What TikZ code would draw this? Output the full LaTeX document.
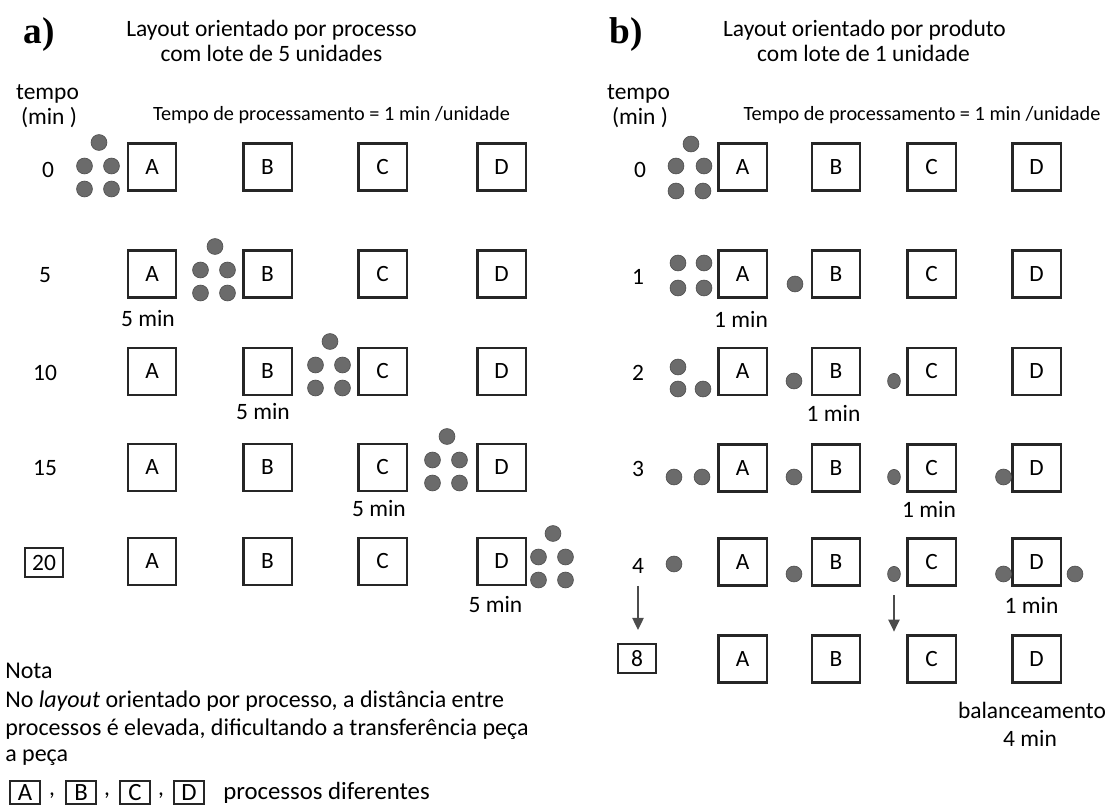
\documentclass[tikz,border=0pt]{standalone}
\usepackage{fontspec}
\setmainfont{Carlito}
\newfontfamily\headserif{Liberation Serif}
\usetikzlibrary{arrows.meta,shapes.geometric}

% type sizes (1 unit = 0.75pt)
\newcommand\txtsize{\fontsize{17.6}{21}\selectfont}
\newcommand\notesize{\fontsize{18}{21}\selectfont}
\newcommand\keysize{\fontsize{18.6}{22}\selectfont}
\newcommand\titlesize{\fontsize{17.6}{21}\selectfont}
\newcommand\procsize{\fontsize{15.2}{19}\selectfont}
\newcommand\letsize{\fontsize{17.5}{20}\selectfont}
\newcommand\tagsize{\headserif\bfseries\fontsize{28}{30}\selectfont}

% a lot of five pieces waiting at a station
\newcommand\pilha[3]{%
  \node[piece] (#1t)  at (#2+1,#3-23.5) {};
  \node[piece] (#1ml) at (#2-13.5,#3) {};
  \node[piece] (#1mr) at (#2+13.5,#3) {};
  \node[piece] (#1bl) at (#2-13.5,#3+23) {};
  \node[piece] (#1br) at (#2+13.5,#3+23) {};
}

% one row of the four stations A-D
\newcommand\estacoes[6]{%
  \node[proc] (#1A) at (#2,#6) {A};
  \node[proc] (#1B) at (#3,#6) {B};
  \node[proc] (#1C) at (#4,#6) {C};
  \node[proc] (#1D) at (#5,#6) {D};
}

\begin{document}
\begin{tikzpicture}[x=0.75pt,y=-0.75pt,
  proc/.style={draw=black!85, line width=1.7pt, minimum width=36.2pt,
               minimum height=35.4pt, inner sep=0pt, font=\letsize},
  piece/.style={circle, fill=black!58, draw=black!68, line width=0.5pt,
                minimum size=11.9pt, inner sep=0pt},
  slim/.style={ellipse, fill=black!58, draw=black!68, line width=0.5pt,
               minimum width=9.6pt, minimum height=11.4pt, inner sep=0pt},
  tbox/.style={draw=black!85, line width=1.3pt, minimum width=28.8pt,
               minimum height=21.5pt, inner sep=0pt, font=\txtsize},
  lgd/.style={draw=black!85, line width=1.2pt, minimum width=22.5pt,
              minimum height=17pt, inner sep=0pt, font=\keysize},
  lbl/.style={inner sep=0pt, font=\txtsize},
  ttl/.style={inner sep=0pt, font=\titlesize, anchor=base},
  arr/.style={draw=black!70, line width=1.1pt,
              -{Triangle[width=8.5pt,length=9pt]}},
]
\useasboundingbox (0,0) rectangle (1108,805);

% ---------------- a) process layout, lot of 5 ----------------
\node[font=\tagsize, inner sep=0pt] (tagA) at (39,35) {a)};
\node[ttl] (titA1) at (271.5,37) {Layout orientado por processo};
\node[ttl] (titA2) at (271.5,62) {com lote de 5 unidades};
\node[lbl, anchor=base] (tempoA) at (47.5,100) {tempo};
\node[lbl, anchor=base] (minA) at (49,125) {(min )};
\node[lbl, anchor=base, font=\procsize] (procA) at (331.5,121)
  {Tempo de processamento = 1 min /unidade};

\node[lbl] (a0)  at (48,170) {0};
\node[lbl] (a5)  at (45,275) {5};
\node[lbl] (a10) at (45,373) {10};
\node[lbl] (a15) at (45,468) {15};
\node[tbox] (a20) at (44,562.5) {20};

\estacoes{ra0}{152}{267.5}{382.5}{501.5}{167}
\estacoes{ra5}{152}{267.5}{382.5}{501.5}{274}
\estacoes{ra10}{152}{267.5}{382.5}{501.5}{371.5}
\estacoes{ra15}{152}{267.5}{382.5}{501.5}{467.5}
\estacoes{ra20}{152}{267.5}{382.5}{501.5}{561.5}

\pilha{pa0}{98}{166}
\pilha{pa5}{214}{270}
\pilha{pa10}{329}{365}
\pilha{pa15}{446}{460}
\pilha{pa20}{552}{557}

\node[lbl] (ma5)  at (148,319)   {5 min};
\node[lbl] (ma10) at (263,412)   {5 min};
\node[lbl] (ma15) at (379,509)   {5 min};
\node[lbl] (ma20) at (495.5,605) {5 min};

% note
\node[lbl, anchor=base west, font=\notesize] (nota1) at (5,679) {Nota};
\node[lbl, anchor=base west, font=\notesize] (nota2) at (5,707)
  {No \textit{layout} orientado por processo, a distância entre};
\node[lbl, anchor=base west, font=\notesize] (nota3) at (5,735)
  {processos é elevada, dificultando a transferência peça};
\node[lbl, anchor=base west, font=\notesize] (nota4) at (5,761) {a peça};

\node[lgd] (lgA) at (25,792.5) {A};
\node[lbl] (cm1) at (52,796) {,};
\node[lgd] (lgB) at (81,792.5) {B};
\node[lbl] (cm2) at (107,796) {,};
\node[lgd] (lgC) at (135,792.5) {C};
\node[lbl] (cm3) at (161,796) {,};
\node[lgd] (lgD) at (189,792.5) {D};
\node[lbl, anchor=west, font=\keysize] (lgT) at (223,793) {processos diferentes};

% ---------------- b) product layout, lot of 1 ----------------
\node[font=\tagsize, inner sep=0pt] (tagB) at (626.5,35) {b)};
\node[ttl] (titB1) at (864.5,37) {Layout orientado por produto};
\node[ttl] (titB2) at (863.5,62) {com lote de 1 unidade};
\node[lbl, anchor=base] (tempoB) at (638.5,100) {tempo};
\node[lbl, anchor=base] (minB) at (640,125) {(min )};
\node[lbl, anchor=base, font=\procsize] (procB) at (922,121)
  {Tempo de processamento = 1 min /unidade};

\node[lbl] (b0) at (640,170) {0};
\node[lbl] (b1) at (638,277) {1};
\node[lbl] (b2) at (638,373) {2};
\node[lbl] (b3) at (638,469) {3};
\node[lbl] (b4) at (638,566) {4};
\node[tbox] (b8) at (637,658.5) {8};

\estacoes{rb0}{742.5}{836}{931.5}{1036.5}{167}
\estacoes{rb1}{742.5}{836}{931.5}{1036.5}{274}
\estacoes{rb2}{742.5}{836}{931.5}{1036.5}{371.5}
\estacoes{rb3}{742.5}{836}{931.5}{1036.5}{468}
\estacoes{rb4}{742.5}{836}{931.5}{1036.5}{562}
\estacoes{rb8}{742.5}{836}{931.5}{1036.5}{659}

% pieces, minute 0
\node[piece] (q0a) at (691,144) {};
\node[piece] (q0b) at (676,166) {};
\node[piece] (q0c) at (704,166) {};
\node[piece] (q0d) at (676,191) {};
\node[piece] (q0e) at (703,191) {};
% minute 1
\node[piece] (q1a) at (678,263) {};
\node[piece] (q1b) at (704,263) {};
\node[piece] (q1c) at (678,288) {};
\node[piece] (q1d) at (704,288) {};
\node[piece] (q1e) at (795,284) {};
% minute 2
\node[piece] (q2a) at (678,367) {};
\node[piece] (q2b) at (678,389) {};
\node[piece] (q2c) at (703,389) {};
\node[piece] (q2d) at (794,381) {};
\node[slim]  (q2e) at (894,381) {};
% minute 3
\node[piece] (q3a) at (674,477) {};
\node[piece] (q3b) at (702,477) {};
\node[piece] (q3c) at (794,477) {};
\node[slim]  (q3d) at (894,477) {};
\node[piece] (q3e) at (1003.5,477) {};
% minute 4
\node[piece] (q4a) at (674,564) {};
\node[piece] (q4b) at (794,574) {};
\node[slim]  (q4c) at (894,574) {};
\node[piece] (q4d) at (1003.5,574) {};
\node[piece] (q4e) at (1075,574) {};

\node[lbl] (mb1) at (741,319)    {1 min};
\node[lbl] (mb2) at (833.5,413)  {1 min};
\node[lbl] (mb3) at (929,509)    {1 min};
\node[lbl] (mb4) at (1031.5,605) {1 min};

\draw[arr, shorten <=9pt, shorten >=10pt] (b4.south) -- (b4.south |- b8.north);
\draw[arr, shorten <=10pt, shorten >=2pt] (q4c.south) -- (q4c.south |- rb8C.north);

\node[lbl] (bal) at (1032,710) {balanceamento};
\node[lbl] (bal4) at (1030,738) {4 min};
\end{tikzpicture}
\end{document}
